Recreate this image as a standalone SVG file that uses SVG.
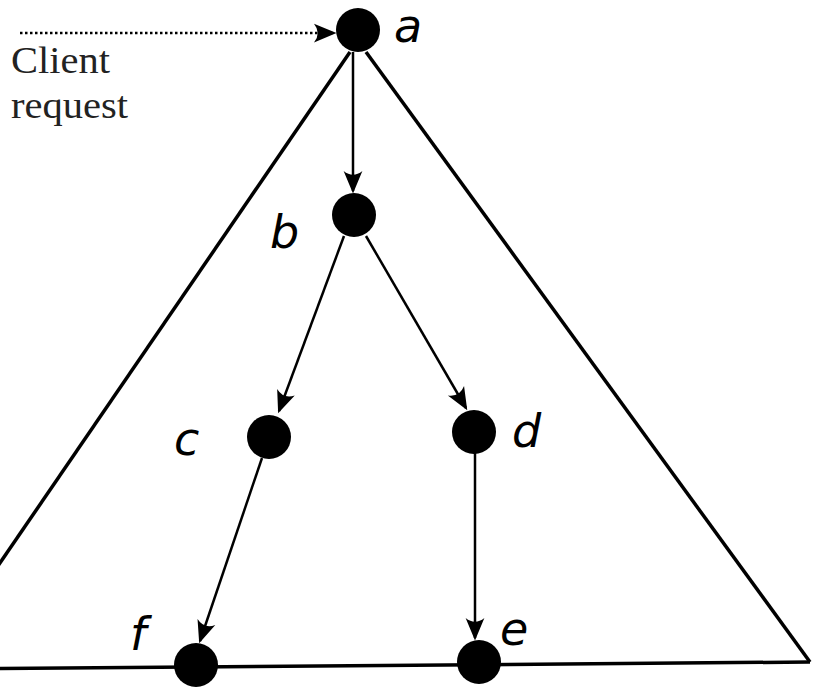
<svg xmlns="http://www.w3.org/2000/svg" width="813" height="690" viewBox="0 0 813 690">
<style>
.tri{fill:none;stroke:#000;stroke-width:3.5;stroke-linejoin:miter}
.edge{fill:none;stroke:#000;stroke-width:2.5}
.node{fill:#000}
.lbl{font-family:"DejaVu Sans",sans-serif;font-style:italic;font-size:46px;fill:#000}
.txt{font-family:"Liberation Serif",serif;font-size:38px;fill:#222}
</style>
<defs>
<marker id="arr" markerUnits="userSpaceOnUse" markerWidth="30" markerHeight="30" viewBox="-20 -10 24 20" refX="0" refY="0" orient="auto">
<path d="M 2 0 L -16 -7.5 Q -10 0 -16 7.5 Z" fill="#000"/>
</marker>
</defs>
<g id="triangle">
<polyline class="tri" points="350,52 -72,668"/>
<polyline class="tri" points="366,52 810,662"/>
<line class="tri" x1="0" y1="668.5" x2="810" y2="662" stroke-width="3"/>
</g>
<g id="connectors">
<line class="edge" x1="20" y1="33" x2="334" y2="33" stroke-dasharray="2.5,2.5" stroke-width="2.2" marker-end="url(#arr)"/>
<line class="edge" x1="353" y1="52" x2="353" y2="191" stroke-width="3" marker-end="url(#arr)"/>
<line class="edge" x1="344" y1="236" x2="279" y2="411" marker-end="url(#arr)"/>
<line class="edge" x1="366" y1="236" x2="466" y2="408" marker-end="url(#arr)"/>
<line class="edge" x1="262" y1="458" x2="200" y2="641" marker-end="url(#arr)"/>
<line class="edge" x1="475" y1="453" x2="475" y2="638" marker-end="url(#arr)"/>
</g>
<g id="node-a"><circle class="node" cx="358" cy="30" r="22"/><text class="lbl" x="394" y="42">a</text></g>
<g id="node-b"><circle class="node" cx="354" cy="215" r="22"/><text class="lbl" x="270" y="248">b</text></g>
<g id="node-c"><circle class="node" cx="269" cy="437" r="22"/><text class="lbl" x="174" y="455">c</text></g>
<g id="node-d"><circle class="node" cx="474" cy="432" r="22"/><text class="lbl" x="512" y="447">d</text></g>
<g id="node-e"><circle class="node" cx="479" cy="662" r="22"/><text class="lbl" x="500" y="645">e</text></g>
<g id="node-f"><circle class="node" cx="196" cy="665" r="22"/><text class="lbl" x="130" y="650">f</text></g>
<g id="client">
<text class="txt" x="11" y="73" textLength="99" lengthAdjust="spacingAndGlyphs">Client</text>
<text class="txt" x="11" y="118" textLength="117" lengthAdjust="spacingAndGlyphs">request</text>
</g>
</svg>
